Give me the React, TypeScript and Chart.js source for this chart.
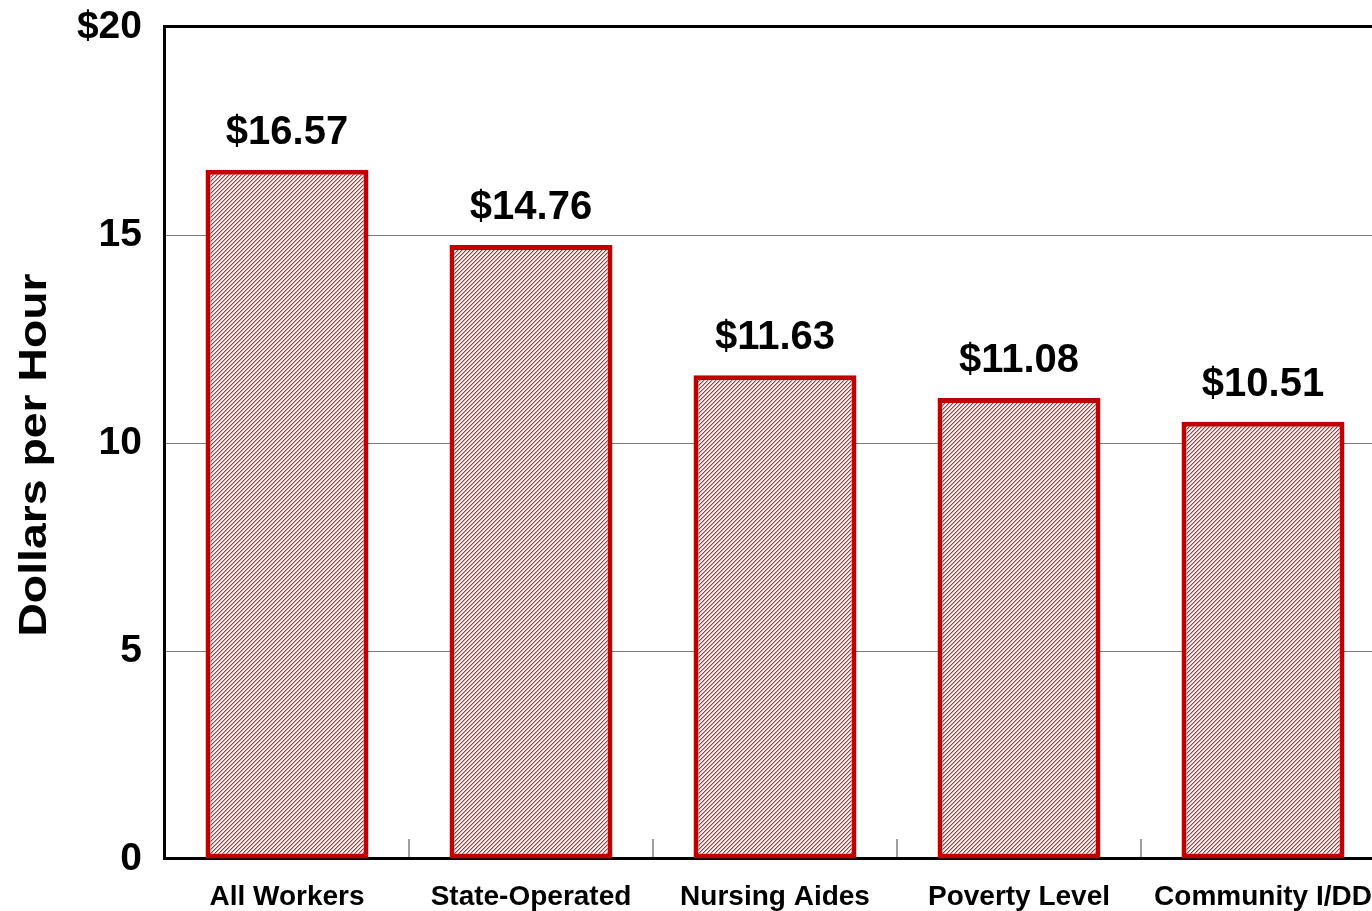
import React, { useEffect, useRef } from 'react';
import { Chart, registerables } from 'chart.js';

Chart.register(...registerables);

const categories = ['All Workers', 'State-Operated', 'Nursing Aides', 'Poverty Level', 'Community I/DD'];
const wages = [16.57, 14.76, 11.63, 11.08, 10.51];
const yTickLabels = ['0', '5', '10', '15', '$20'];
const yAxisTitle = 'Dollars per Hour';

const FONT = '"Liberation Sans", Arial, Helvetica, sans-serif';

function makePattern(ctx: CanvasRenderingContext2D) {
  const c = document.createElement('canvas');
  c.width = 4;
  c.height = 4;
  const p = c.getContext('2d') as CanvasRenderingContext2D;
  p.fillStyle = '#fbf1f1';
  p.fillRect(0, 0, 4, 4);
  for (let i = 0; i < 4; i++) {
    p.fillStyle = '#923c3c';
    p.fillRect(i, 3 - i, 1, 1);
    p.fillStyle = '#d6a9a9';
    p.fillRect((i + 1) % 4, 3 - i, 1, 1);
  }
  return ctx.createPattern(c, 'repeat');
}

const framePlugin = {
  id: 'frame',
  beforeDatasetsDraw(chart: any) {
    const { ctx, chartArea: a, scales } = chart;
    const x = scales.x;
    ctx.save();
    ctx.strokeStyle = '#7f7f7f';
    ctx.lineWidth = 1.5;
    for (let i = 0; i < x.ticks.length - 1; i++) {
      const bx = Math.round((x.getPixelForTick(i) + x.getPixelForTick(i + 1)) / 2);
      ctx.beginPath();
      ctx.moveTo(bx, a.bottom);
      ctx.lineTo(bx, a.bottom - 20);
      ctx.stroke();
    }
    ctx.strokeStyle = '#000';
    ctx.lineWidth = 3;
    ctx.strokeRect(a.left - 0.5, a.top - 0.5, a.right - a.left, a.bottom - a.top);
    ctx.restore();
  },
};

const valueLabelPlugin = {
  id: 'valueLabels',
  afterDatasetsDraw(chart: any) {
    const { ctx } = chart;
    const meta = chart.getDatasetMeta(0);
    const data = chart.data.datasets[0].data as number[];
    ctx.save();
    ctx.font = `bold 40px ${FONT}`;
    ctx.fillStyle = '#000';
    ctx.textAlign = 'center';
    ctx.textBaseline = 'alphabetic';
    meta.data.forEach((bar: any, i: number) => {
      ctx.fillText('$' + data[i].toFixed(2), bar.x, bar.y - 26);
    });
    ctx.restore();
  },
};

// Y axis title, drawn with the slight horizontal stretch of the original
const yTitlePlugin = {
  id: 'yTitle',
  afterDraw(chart: any) {
    const { ctx, chartArea: a } = chart;
    ctx.save();
    ctx.translate(36, (a.top + a.bottom) / 2 + 12);
    ctx.rotate(-Math.PI / 2);
    ctx.scale(1.22, 1);
    ctx.font = `bold 38px ${FONT}`;
    ctx.fillStyle = '#000';
    ctx.textAlign = 'center';
    ctx.textBaseline = 'middle';
    ctx.fillText(yAxisTitle, 0, 0);
    ctx.restore();
  },
};

export default function App() {
  const ref = useRef<HTMLCanvasElement | null>(null);

  useEffect(() => {
    const canvas = ref.current;
    if (!canvas) return;
    const ctx = canvas.getContext('2d') as CanvasRenderingContext2D;
    const pattern = makePattern(ctx);
    const chart = new Chart(canvas, {
      type: 'bar',
      data: {
        labels: categories,
        datasets: [
          {
            data: wages,
            backgroundColor: pattern as any,
            borderColor: '#C00000',
            borderWidth: 5,
            borderSkipped: false,
            categoryPercentage: 1,
            barPercentage: 0.668,
          },
        ],
      },
      options: {
        responsive: false,
        devicePixelRatio: 1,
        animation: false,
        layout: { padding: { left: 0, right: 15, top: 27, bottom: 0 } },
        plugins: {
          legend: { display: false },
          tooltip: { enabled: false },
        },
        scales: {
          x: {
            type: 'category',
            offset: true,
            grid: { display: false, drawTicks: false },
            border: { display: false },
            ticks: {
              color: '#000',
              padding: 21,
              maxRotation: 0,
              autoSkip: false,
              font: { family: FONT, size: 28, weight: 'bold' },
            },
            afterFit(scale: any) {
              scale.height = 52;
              scale.paddingLeft = 0;
              scale.paddingRight = 0;
            },
          },
          y: {
            min: 0,
            max: 20,
            border: { display: false },
            grid: { color: '#7a7a7a', lineWidth: 1, drawTicks: false },
            ticks: {
              stepSize: 5,
              color: '#000',
              padding: 23,
              font: { family: FONT, size: 39, weight: 'bold' },
              callback: (_v: any, i: number) => yTickLabels[i],
            },
            title: { display: false },
            afterFit(scale: any) {
              scale.width = 165;
              scale.paddingTop = 0;
              scale.paddingBottom = 0;
            },
          },
        },
      },
      plugins: [framePlugin, valueLabelPlugin, yTitlePlugin],
    } as any);
    return () => chart.destroy();
  }, []);

  return (
    <div
      style={{
        position: 'fixed',
        left: 0,
        top: 0,
        width: 1372,
        height: 911,
        overflow: 'hidden',
        background: '#fff',
      }}
    >
      <canvas ref={ref} width={1400} height={911} style={{ display: 'block', width: 1400, height: 911 }} />
    </div>
  );
}
